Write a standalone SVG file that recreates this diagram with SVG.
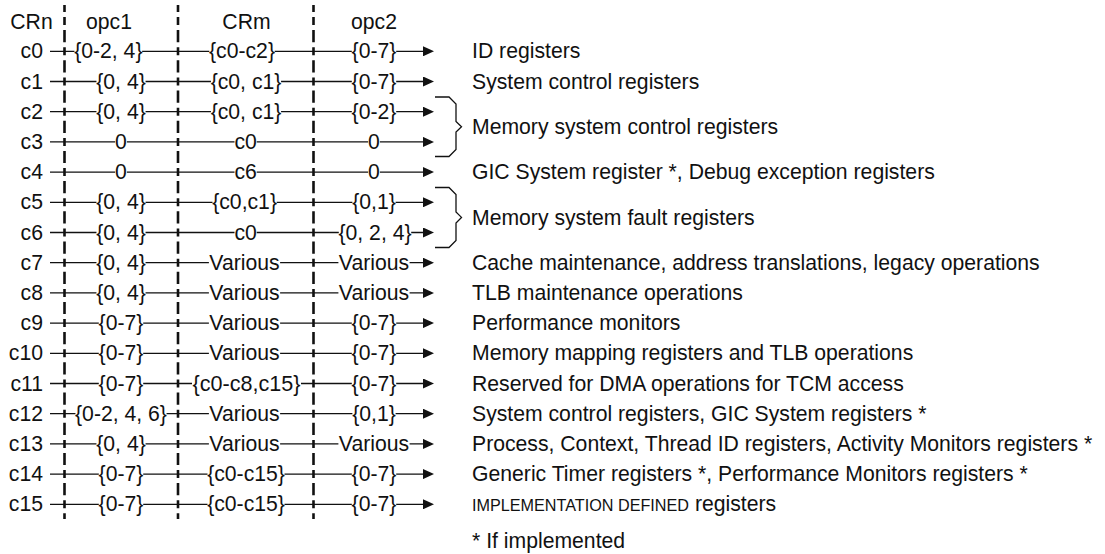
<svg xmlns="http://www.w3.org/2000/svg" width="1105" height="554" viewBox="0 0 1105 554">
<style>
text{font-family:"Liberation Sans",Arial,Helvetica,sans-serif;font-size:21.2px;fill:#111}
.m{text-anchor:middle}
.e{text-anchor:end}
.bg{fill:#fff}
.h{stroke:#111;stroke-width:1.3;fill:none}
.d{stroke:#111;stroke-width:2.6;stroke-dasharray:8 5 12.2 5;stroke-dashoffset:18.1;fill:none}
.br{stroke:#111;stroke-width:1.3;fill:none;stroke-linejoin:miter}
.sc{font-size:16.2px}
</style>
<defs>
<marker id="ah" markerUnits="userSpaceOnUse" markerWidth="11" markerHeight="10" refX="7" refY="5" orient="auto">
<path d="M0,0 L11,5 L0,10 Z" fill="#111"/>
</marker>
</defs>
<g id="connectors">
<g id="rows">
<line class="h" x1="50" y1="51.3" x2="430" y2="51.3" marker-end="url(#ah)"/>
<line class="h" x1="50" y1="81.5" x2="430" y2="81.5" marker-end="url(#ah)"/>
<line class="h" x1="50" y1="111.7" x2="430" y2="111.7" marker-end="url(#ah)"/>
<line class="h" x1="50" y1="141.9" x2="430" y2="141.9" marker-end="url(#ah)"/>
<line class="h" x1="50" y1="172.1" x2="430" y2="172.1" marker-end="url(#ah)"/>
<line class="h" x1="50" y1="202.3" x2="430" y2="202.3" marker-end="url(#ah)"/>
<line class="h" x1="50" y1="232.5" x2="430" y2="232.5" marker-end="url(#ah)"/>
<line class="h" x1="50" y1="262.7" x2="430" y2="262.7" marker-end="url(#ah)"/>
<line class="h" x1="50" y1="292.9" x2="430" y2="292.9" marker-end="url(#ah)"/>
<line class="h" x1="50" y1="323.1" x2="430" y2="323.1" marker-end="url(#ah)"/>
<line class="h" x1="50" y1="353.3" x2="430" y2="353.3" marker-end="url(#ah)"/>
<line class="h" x1="50" y1="383.5" x2="430" y2="383.5" marker-end="url(#ah)"/>
<line class="h" x1="50" y1="413.7" x2="430" y2="413.7" marker-end="url(#ah)"/>
<line class="h" x1="50" y1="443.9" x2="430" y2="443.9" marker-end="url(#ah)"/>
<line class="h" x1="50" y1="474.1" x2="430" y2="474.1" marker-end="url(#ah)"/>
<line class="h" x1="50" y1="504.3" x2="430" y2="504.3" marker-end="url(#ah)"/>
</g>
<g id="dividers">
<line class="d" x1="64.5" y1="5" x2="64.5" y2="519"/>
<line class="d" x1="178" y1="5" x2="178" y2="519"/>
<line class="d" x1="313.5" y1="5" x2="313.5" y2="519"/>
</g>
<g id="braces">
<path class="br" d="M435,97 H449 L456,104 V121.5 L461.5,126.8 L456,132 V149.5 L449,156.5 H435"/>
<path class="br" d="M435,187.5 H449 L456,194.5 V212 L461.5,217.4 L456,223 V240.5 L449,247.5 H435"/>
</g>
</g>
<g id="header">
<text class="m" x="31.5" y="29">CRn</text>
<text class="m" x="109" y="29">opc1</text>
<text class="m" x="246.5" y="29">CRm</text>
<text class="m" x="374" y="29">opc2</text>
</g>
<g id="row-c0">
<text class="e" x="43" y="58.3">c0</text>
<rect class="bg" x="74.45" y="42.3" width="67.7" height="18"/><text class="m" x="108.3" y="58.3">{0-2, 4}</text>
<rect class="bg" x="209.3" y="42.3" width="65.4" height="18"/><text class="m" x="242" y="58.3">{c0-c2}</text>
<rect class="bg" x="351.8" y="42.3" width="44.4" height="18"/><text class="m" x="374" y="58.3">{0-7}</text>
<text x="472" y="58.3">ID registers</text>
</g>
<g id="row-c1">
<text class="e" x="43" y="88.5">c1</text>
<rect class="bg" x="96.45" y="72.5" width="49.1" height="18"/><text class="m" x="121" y="88.5">{0, 4}</text>
<rect class="bg" x="210.95" y="72.5" width="70.1" height="18"/><text class="m" x="246" y="88.5">{c0, c1}</text>
<rect class="bg" x="351.8" y="72.5" width="44.4" height="18"/><text class="m" x="374" y="88.5">{0-7}</text>
<text x="472" y="88.5">System control registers</text>
</g>
<g id="row-c2">
<text class="e" x="43" y="118.7">c2</text>
<rect class="bg" x="96.45" y="102.7" width="49.1" height="18"/><text class="m" x="121" y="118.7">{0, 4}</text>
<rect class="bg" x="210.95" y="102.7" width="70.1" height="18"/><text class="m" x="246" y="118.7">{c0, c1}</text>
<rect class="bg" x="351.8" y="102.7" width="44.4" height="18"/><text class="m" x="374" y="118.7">{0-2}</text>
</g>
<g id="row-c3">
<text class="e" x="43" y="148.9">c3</text>
<rect class="bg" x="115.15" y="132.9" width="11.7" height="18"/><text class="m" x="121" y="148.9">0</text>
<rect class="bg" x="234.5" y="132.9" width="22.2" height="18"/><text class="m" x="245.6" y="148.9">c0</text>
<rect class="bg" x="368.15" y="132.9" width="11.7" height="18"/><text class="m" x="374" y="148.9">0</text>
</g>
<g id="group-memory-control">
<text x="472" y="134">Memory system control registers</text>
</g>
<g id="row-c4">
<text class="e" x="43" y="179.1">c4</text>
<rect class="bg" x="115.15" y="163.1" width="11.7" height="18"/><text class="m" x="121" y="179.1">0</text>
<rect class="bg" x="234.5" y="163.1" width="22.2" height="18"/><text class="m" x="245.6" y="179.1">c6</text>
<rect class="bg" x="368.15" y="163.1" width="11.7" height="18"/><text class="m" x="374" y="179.1">0</text>
<text x="472" y="179.1">GIC System register *, Debug exception registers</text>
</g>
<g id="row-c5">
<text class="e" x="43" y="209.3">c5</text>
<rect class="bg" x="96.45" y="193.3" width="49.1" height="18"/><text class="m" x="121" y="209.3">{0, 4}</text>
<rect class="bg" x="212.5" y="193.3" width="64.2" height="18"/><text class="m" x="244.6" y="209.3">{c0,c1}</text>
<rect class="bg" x="352.4" y="193.3" width="43.2" height="18"/><text class="m" x="374" y="209.3">{0,1}</text>
</g>
<g id="row-c6">
<text class="e" x="43" y="239.5">c6</text>
<rect class="bg" x="96.45" y="223.5" width="49.1" height="18"/><text class="m" x="121" y="239.5">{0, 4}</text>
<rect class="bg" x="234.5" y="223.5" width="22.2" height="18"/><text class="m" x="245.6" y="239.5">c0</text>
<rect class="bg" x="338.8" y="223.5" width="72.4" height="18"/><text class="m" x="375" y="239.5">{0, 2, 4}</text>
</g>
<g id="group-memory-fault">
<text x="472" y="224.6">Memory system fault registers</text>
</g>
<g id="row-c7">
<text class="e" x="43" y="269.7">c7</text>
<rect class="bg" x="96.45" y="253.7" width="49.1" height="18"/><text class="m" x="121" y="269.7">{0, 4}</text>
<rect class="bg" x="208.9" y="253.7" width="71.2" height="18"/><text class="m" x="244.5" y="269.7">Various</text>
<rect class="bg" x="338.4" y="253.7" width="71.2" height="18"/><text class="m" x="374" y="269.7">Various</text>
<text x="472" y="269.7">Cache maintenance, address translations, legacy operations</text>
</g>
<g id="row-c8">
<text class="e" x="43" y="299.9">c8</text>
<rect class="bg" x="96.45" y="283.9" width="49.1" height="18"/><text class="m" x="121" y="299.9">{0, 4}</text>
<rect class="bg" x="208.9" y="283.9" width="71.2" height="18"/><text class="m" x="244.5" y="299.9">Various</text>
<rect class="bg" x="338.4" y="283.9" width="71.2" height="18"/><text class="m" x="374" y="299.9">Various</text>
<text x="472" y="299.9">TLB maintenance operations</text>
</g>
<g id="row-c9">
<text class="e" x="43" y="330.1">c9</text>
<rect class="bg" x="98.8" y="314.1" width="44.4" height="18"/><text class="m" x="121" y="330.1">{0-7}</text>
<rect class="bg" x="208.9" y="314.1" width="71.2" height="18"/><text class="m" x="244.5" y="330.1">Various</text>
<rect class="bg" x="351.8" y="314.1" width="44.4" height="18"/><text class="m" x="374" y="330.1">{0-7}</text>
<text x="472" y="330.1">Performance monitors</text>
</g>
<g id="row-c10">
<text class="e" x="43" y="360.3">c10</text>
<rect class="bg" x="98.8" y="344.3" width="44.4" height="18"/><text class="m" x="121" y="360.3">{0-7}</text>
<rect class="bg" x="208.9" y="344.3" width="71.2" height="18"/><text class="m" x="244.5" y="360.3">Various</text>
<rect class="bg" x="351.8" y="344.3" width="44.4" height="18"/><text class="m" x="374" y="360.3">{0-7}</text>
<text x="472" y="360.3">Memory mapping registers and TLB operations</text>
</g>
<g id="row-c11">
<text class="e" x="43" y="390.5">c11</text>
<rect class="bg" x="98.8" y="374.5" width="44.4" height="18"/><text class="m" x="121" y="390.5">{0-7}</text>
<rect class="bg" x="192" y="374.5" width="109" height="18"/><text class="m" x="246.5" y="390.5" textLength="108" lengthAdjust="spacingAndGlyphs">{c0-c8,c15}</text>
<rect class="bg" x="351.8" y="374.5" width="44.4" height="18"/><text class="m" x="374" y="390.5">{0-7}</text>
<text x="472" y="390.5">Reserved for DMA operations for TCM access</text>
</g>
<g id="row-c12">
<text class="e" x="43" y="420.7">c12</text>
<rect class="bg" x="75.45" y="404.7" width="91.1" height="18"/><text class="m" x="121" y="420.7">{0-2, 4, 6}</text>
<rect class="bg" x="208.9" y="404.7" width="71.2" height="18"/><text class="m" x="244.5" y="420.7">Various</text>
<rect class="bg" x="352.4" y="404.7" width="43.2" height="18"/><text class="m" x="374" y="420.7">{0,1}</text>
<text x="472" y="420.7">System control registers, GIC System registers *</text>
</g>
<g id="row-c13">
<text class="e" x="43" y="450.9">c13</text>
<rect class="bg" x="96.45" y="434.9" width="49.1" height="18"/><text class="m" x="121" y="450.9">{0, 4}</text>
<rect class="bg" x="208.9" y="434.9" width="71.2" height="18"/><text class="m" x="244.5" y="450.9">Various</text>
<rect class="bg" x="338.4" y="434.9" width="71.2" height="18"/><text class="m" x="374" y="450.9">Various</text>
<text x="472" y="450.9">Process, Context, Thread ID registers, Activity Monitors registers *</text>
</g>
<g id="row-c14">
<text class="e" x="43" y="481.1">c14</text>
<rect class="bg" x="98.8" y="465.1" width="44.4" height="18"/><text class="m" x="121" y="481.1">{0-7}</text>
<rect class="bg" x="207.5" y="465.1" width="77" height="18"/><text class="m" x="246" y="481.1">{c0-c15}</text>
<rect class="bg" x="351.8" y="465.1" width="44.4" height="18"/><text class="m" x="374" y="481.1">{0-7}</text>
<text x="472" y="481.1">Generic Timer registers *, Performance Monitors registers *</text>
</g>
<g id="row-c15">
<text class="e" x="43" y="511.3">c15</text>
<rect class="bg" x="98.8" y="495.3" width="44.4" height="18"/><text class="m" x="121" y="511.3">{0-7}</text>
<rect class="bg" x="207.5" y="495.3" width="77" height="18"/><text class="m" x="246" y="511.3">{c0-c15}</text>
<rect class="bg" x="351.8" y="495.3" width="44.4" height="18"/><text class="m" x="374" y="511.3">{0-7}</text>
<text x="472" y="511.3"><tspan class="sc">IMPLEMENTATION DEFINED</tspan> registers</text>
</g>
<g id="footnote">
<text x="472" y="548">* If implemented</text>
</g>
</svg>
